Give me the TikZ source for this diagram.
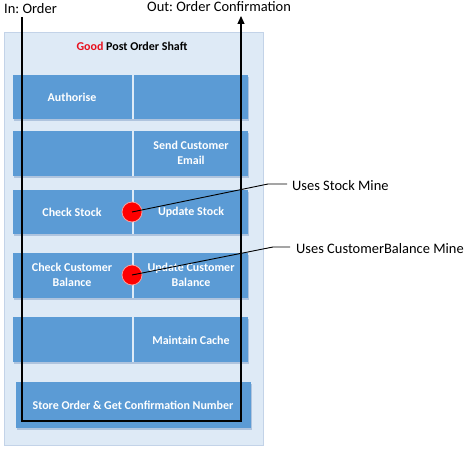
\documentclass[tikz,border=0pt]{standalone}
\usepackage{fontspec}
\setmainfont{Carlito}
\frenchspacing
\usetikzlibrary{arrows.meta}
\definecolor{panelfill}{HTML}{DEEAF6}
\definecolor{paneldraw}{HTML}{C3D3E8}
\definecolor{boxfill}{HTML}{5B9BD5}
\definecolor{boxshadow}{HTML}{AFC4DE}
\definecolor{goodred}{HTML}{E8101E}
\definecolor{minered}{HTML}{FF0000}
\definecolor{mineedge}{HTML}{F4A0A0}
\tikzset{
  panel/.style={fill=panelfill, draw=paneldraw, line width=0.8bp},
  task/.style={fill=boxfill, draw=none},
  tshadow/.style={fill=boxshadow, draw=none},
  tasktext/.style={text=white, font=\fontsize{12}{14.5}\selectfont\bfseries, align=center, inner sep=0pt},
  plain/.style={font=\fontsize{14.5}{17}\selectfont, inner sep=0pt, anchor=west},
  flow/.style={line width=1.1bp, black},
  mine/.style={circle, fill=minered, draw=mineedge, line width=0.8bp, minimum size=20bp, inner sep=0pt},
  callout/.style={line width=0.9bp, black},
  divider/.style={draw=white!80!boxfill, line width=2.5bp}
}
\begin{document}
\begin{tikzpicture}[x=1bp, y=-1bp]
\useasboundingbox (0,0) rectangle (476,453);
% panel
\draw[panel] (4,32) rectangle (263,445);
\node[font=\fontsize{12}{14}\selectfont\bfseries, inner sep=0pt] (title) at (132,46) {\textcolor{goodred}{Good} Post Order Shaft};
% rows
\foreach \t/\b in {75/119,131/176,190/234,253/298,317/362}{
  \fill[tshadow] (14,\t+2) rectangle (249,\b+2);
  \fill[task] (13,\t) rectangle (248,\b);
  \draw[divider] (133,\t) -- (133,\b);
}
\fill[tshadow] (17,384) rectangle (252,430);
\fill[task] (16,382) rectangle (251,428);
% texts
\node[tasktext] (auth) at (72,97) {Authorise};
\node[tasktext] (email) at (191,153) {Send Customer\\Email};
\node[tasktext] (chk) at (72,212) {Check Stock};
\node[tasktext] (upd) at (191,212) {Update Stock};
\node[tasktext] (chkb) at (72,275) {Check Customer\\Balance};
\node[tasktext] (updb) at (191,275) {Update Customer\\Balance};
\node[tasktext] (cache) at (191,340) {Maintain Cache};
\node[tasktext] (store) at (133,405) {Store Order \& Get Confirmation Number};
% in/out
\node[plain] (intext) at (4,9) {In: Order};
\node[plain] (outtext) at (147,7) {Out: Order Confirmation};
\coordinate (inTop) at (22,17);
\coordinate (inBot) at (22,421);
\coordinate (outBot) at (241,421);
\coordinate (outTop) at (241,16);
\draw[flow, -{Triangle[length=8bp,width=7bp]}] (inTop) -- (inBot) -- (outBot) -- (outTop);
% mines
\node[mine] (m1) at (132,212) {};
\node[mine] (m2) at (132,275) {};
\node[plain] (l1) at (292,186) {Uses Stock Mine};
\node[plain] (l2) at (296,249) {Uses CustomerBalance Mine};
\coordinate (k1) at (268,184);
\coordinate (k2) at (273,247);
\draw[callout] (m1.center) -- (k1) -- ([xshift=-5bp]l1.west |- k1);
\draw[callout] (m2.center) -- (k2) -- ([xshift=-6bp]l2.west |- k2);
\end{tikzpicture}
\end{document}
